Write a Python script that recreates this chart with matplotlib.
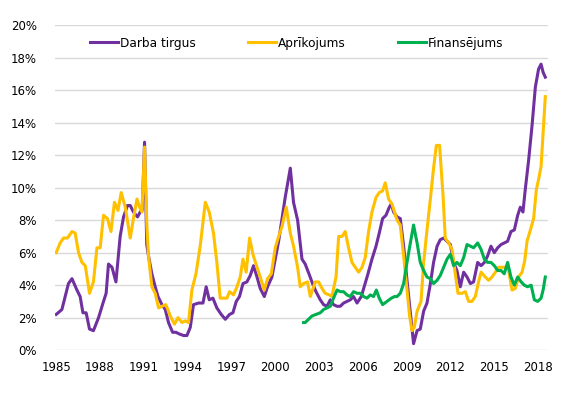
import matplotlib
matplotlib.use('Agg')
import matplotlib.pyplot as plt
from matplotlib.ticker import FuncFormatter

# values (year, %)
darba_years = [1985.0, 1985.39, 1985.84, 1986.08, 1986.42, 1986.64, 1986.83, 1987.05, 1987.28, 1987.55,
               1987.9, 1988.24, 1988.42, 1988.58, 1988.82, 1989.09, 1989.38, 1989.61, 1989.88, 1990.07,
               1990.29, 1990.57, 1990.75, 1990.89, 1991.05, 1991.2, 1991.32, 1991.55, 1991.78, 1991.97,
               1992.24, 1992.47, 1992.69, 1992.97, 1993.2, 1993.42, 1993.72, 1993.95, 1994.18, 1994.4,
               1994.75, 1995.05, 1995.27, 1995.48, 1995.73, 1996.0, 1996.3, 1996.58, 1996.87, 1997.1,
               1997.33, 1997.55, 1997.79, 1998.06, 1998.29, 1998.51, 1998.75, 1998.97, 1999.25, 1999.47,
               1999.77, 2000.0, 2000.23, 2000.46, 2000.68, 2001.03, 2001.25, 2001.53, 2001.83, 2002.05,
               2002.35, 2002.55, 2002.79, 2003.08, 2003.31, 2003.54, 2003.77, 2003.99, 2004.23, 2004.45,
               2004.68, 2004.91, 2005.14, 2005.36, 2005.6, 2005.89, 2006.12, 2006.35, 2006.62, 2006.9,
               2007.12, 2007.35, 2007.58, 2007.81, 2007.95, 2008.1, 2008.34, 2008.56, 2008.79, 2009.02,
               2009.25, 2009.47, 2009.71, 2009.93, 2010.16, 2010.39, 2010.62, 2010.84, 2011.08, 2011.3,
               2011.53, 2011.76, 2011.99, 2012.21, 2012.44, 2012.67, 2012.9, 2013.13, 2013.36, 2013.58,
               2013.86, 2014.09, 2014.32, 2014.54, 2014.77, 2015.0, 2015.23, 2015.46, 2015.68, 2015.91,
               2016.14, 2016.37, 2016.6, 2016.78, 2016.96, 2017.12, 2017.35, 2017.58, 2017.81, 2018.03,
               2018.2, 2018.34, 2018.49]
darba_vals = [2.2, 2.5, 4.1, 4.4, 3.7, 3.3, 2.3, 2.3, 1.3, 1.2,
              2.0, 3.0, 3.5, 5.3, 5.1, 4.2, 7.0, 8.2, 8.9, 8.9,
              8.5, 8.2, 8.5, 8.6, 12.8, 6.5, 5.8, 4.7, 3.9, 3.3,
              2.8, 2.5, 1.7, 1.1, 1.1, 1.0, 0.9, 0.9, 1.4, 2.8,
              2.9, 2.9, 3.9, 3.1, 3.2, 2.6, 2.2, 1.9, 2.2, 2.3,
              3.0, 3.3, 4.1, 4.2, 4.6, 5.2, 4.5, 3.8, 3.3, 3.9,
              4.5, 5.6, 6.7, 8.1, 9.4, 11.2, 9.1, 8.0, 5.6, 5.3,
              4.6, 4.1, 3.6, 3.1, 2.8, 2.7, 3.1, 2.8, 2.7, 2.7,
              2.9, 3.0, 3.1, 3.3, 2.9, 3.3, 4.0, 4.7, 5.6, 6.4,
              7.2, 8.1, 8.3, 8.8, 9.0, 8.5, 8.2, 8.1, 6.4, 4.3,
              2.3, 0.4, 1.2, 1.3, 2.4, 2.9, 4.1, 5.4, 6.4, 6.8,
              6.9, 6.7, 6.5, 5.4, 4.9, 3.9, 4.8, 4.5, 4.1, 4.2,
              5.4, 5.2, 5.4, 5.8, 6.4, 6.0, 6.3, 6.5, 6.6, 6.7,
              7.3, 7.4, 8.3, 8.8, 8.5, 9.9, 11.7, 13.8, 16.2, 17.3,
              17.6, 17.1, 16.8]

aprik_years = [1985.0, 1985.27, 1985.5, 1985.77, 1986.08, 1986.3, 1986.53, 1986.76, 1986.99, 1987.28,
               1987.55, 1987.79, 1988.01, 1988.24, 1988.51, 1988.75, 1988.99, 1989.23, 1989.45, 1989.73,
               1990.07, 1990.29, 1990.53, 1990.71, 1990.87, 1991.05, 1991.21, 1991.32, 1991.55, 1991.78,
               1992.01, 1992.24, 1992.51, 1992.81, 1993.1, 1993.34, 1993.61, 1993.84, 1994.06, 1994.29,
               1994.57, 1994.86, 1995.21, 1995.48, 1995.77, 1996.0, 1996.23, 1996.46, 1996.69, 1996.87,
               1997.14, 1997.38, 1997.6, 1997.79, 1998.01, 1998.24, 1998.47, 1998.75, 1998.97, 1999.25,
               1999.47, 1999.73, 2000.0, 2000.23, 2000.46, 2000.75, 2001.03, 2001.25, 2001.53, 2001.71,
               2001.94, 2002.21, 2002.4, 2002.74, 2002.97, 2003.2, 2003.42, 2003.7, 2003.88, 2004.16,
               2004.34, 2004.57, 2004.79, 2005.02, 2005.25, 2005.48, 2005.71, 2005.94, 2006.16, 2006.39,
               2006.62, 2006.9, 2007.12, 2007.35, 2007.53, 2007.76, 2007.99, 2008.34, 2008.56, 2008.79,
               2009.02, 2009.2, 2009.36, 2009.52, 2009.71, 2009.98, 2010.16, 2010.39, 2010.62, 2010.84,
               2011.03, 2011.25, 2011.49, 2011.64, 2011.87, 2012.1, 2012.33, 2012.51, 2012.79, 2013.01,
               2013.24, 2013.47, 2013.7, 2013.92, 2014.09, 2014.38, 2014.61, 2014.84, 2015.07, 2015.29,
               2015.53, 2015.75, 2015.98, 2016.21, 2016.44, 2016.66, 2016.9, 2017.08, 2017.24, 2017.47,
               2017.69, 2017.88, 2018.03, 2018.2, 2018.34, 2018.49]
aprik_vals = [6.0, 6.6, 6.9, 6.9, 7.3, 7.2, 6.0, 5.4, 5.2, 3.5,
              4.2, 6.3, 6.3, 8.3, 8.1, 7.3, 9.1, 8.6, 9.7, 8.8,
              6.9, 8.1, 9.3, 8.8, 8.5, 12.5, 7.6, 5.8, 3.9, 3.5,
              2.6, 2.7, 2.8, 2.1, 1.6, 2.0, 1.7, 1.8, 1.7, 3.7,
              4.7, 6.4, 9.1, 8.5, 7.2, 5.4, 3.2, 3.2, 3.2, 3.6,
              3.4, 3.9, 4.5, 5.6, 4.8, 6.9, 5.9, 5.1, 4.5, 3.7,
              4.4, 4.7, 6.3, 7.0, 7.6, 8.8, 7.2, 6.4, 5.1, 3.9,
              4.1, 4.2, 3.3, 4.2, 4.2, 3.8, 3.5, 3.4, 3.3, 4.5,
              7.0, 7.0, 7.3, 6.3, 5.4, 5.1, 4.8, 5.1, 5.7, 7.3,
              8.5, 9.4, 9.7, 9.8, 10.3, 9.3, 9.0, 8.0, 7.7, 5.8,
              3.7, 2.1, 1.2, 1.4, 2.4, 3.0, 5.4, 7.4, 9.3, 11.2,
              12.6, 12.6, 9.5, 6.9, 6.6, 6.2, 4.7, 3.5, 3.5, 3.6,
              3.0, 3.0, 3.3, 4.2, 4.8, 4.5, 4.3, 4.5, 4.8, 5.1,
              5.1, 5.1, 4.9, 3.7, 3.8, 4.5, 4.8, 5.5, 6.7, 7.4,
              8.1, 9.9, 10.5, 11.3, 13.4, 15.6]

finans_years = [2001.94, 2002.05, 2002.28, 2002.51, 2002.79, 2003.08, 2003.31, 2003.54, 2003.77, 2003.99,
                2004.23, 2004.45, 2004.68, 2004.91, 2005.14, 2005.36, 2005.6, 2005.82, 2006.05, 2006.28,
                2006.51, 2006.73, 2006.92, 2007.12, 2007.35, 2007.65, 2007.95, 2008.17, 2008.34, 2008.56,
                2008.79, 2009.02, 2009.25, 2009.47, 2009.71, 2009.93, 2010.16, 2010.39, 2010.62, 2010.84,
                2011.08, 2011.3, 2011.53, 2011.76, 2011.99, 2012.21, 2012.44, 2012.67, 2012.9, 2013.13,
                2013.36, 2013.58, 2013.86, 2014.09, 2014.32, 2014.54, 2014.77, 2015.0, 2015.23, 2015.46,
                2015.68, 2015.91, 2016.14, 2016.37, 2016.6, 2016.84, 2017.05, 2017.28, 2017.52, 2017.74,
                2017.97, 2018.2, 2018.34, 2018.49]
finans_vals = [1.7, 1.7, 1.9, 2.1, 2.2, 2.3, 2.5, 2.6, 2.7, 3.2,
               3.7, 3.6, 3.6, 3.4, 3.3, 3.6, 3.5, 3.5, 3.3, 3.2,
               3.4, 3.3, 3.7, 3.2, 2.8, 3.0, 3.2, 3.3, 3.3, 3.5,
               4.1, 5.4, 6.6, 7.7, 6.6, 5.4, 4.9, 4.5, 4.4, 4.1,
               4.3, 4.6, 5.1, 5.6, 5.9, 5.2, 5.4, 5.2, 5.7, 6.5,
               6.4, 6.3, 6.6, 6.2, 5.6, 5.4, 5.4, 5.2, 4.9, 4.9,
               4.7, 5.4, 4.5, 4.0, 4.5, 4.2, 4.0, 3.9, 4.0, 3.1,
               3.0, 3.2, 3.7, 4.5]

year_ticks = [1985, 1988, 1991, 1994, 1997, 2000, 2003, 2006, 2009, 2012, 2015, 2018]

fig = plt.figure(figsize=(5.63, 3.93), dpi=100)
ax = fig.add_axes([0.098, 0.109, 0.876, 0.827])

lw = 2.2
ax.plot(darba_years, darba_vals, color='#7030A0', lw=lw, label='Darba tirgus', solid_joinstyle='round')
ax.plot(aprik_years, aprik_vals, color='#FFC000', lw=lw, label='Aprīkojums', solid_joinstyle='round')
ax.plot(finans_years, finans_vals, color='#00B050', lw=lw, label='Finansējums', solid_joinstyle='round')

ax.set_ylim(0, 20)
ax.set_xlim(1984.93, 2018.7)
ax.set_yticks(range(0, 21, 2))
ax.yaxis.set_major_formatter(FuncFormatter(lambda v, p: f'{v:.0f}%'))
ax.set_xticks(year_ticks)
ax.grid(axis='y', color='#D9D9D9', lw=1)
ax.set_axisbelow(True)
for s in ax.spines.values():
    s.set_visible(False)
ax.tick_params(length=0, labelsize=8.5, colors='black')
ax.tick_params(axis='y', pad=13)
ax.tick_params(axis='x', pad=8)

ax.legend(loc='upper center', bbox_to_anchor=(0.49, 1.0), ncol=3, frameon=False, fontsize=8.7,
          handlelength=2.3, handletextpad=0.2, columnspacing=4.3, borderaxespad=0.55)

fig.savefig('out.png', dpi=100)
